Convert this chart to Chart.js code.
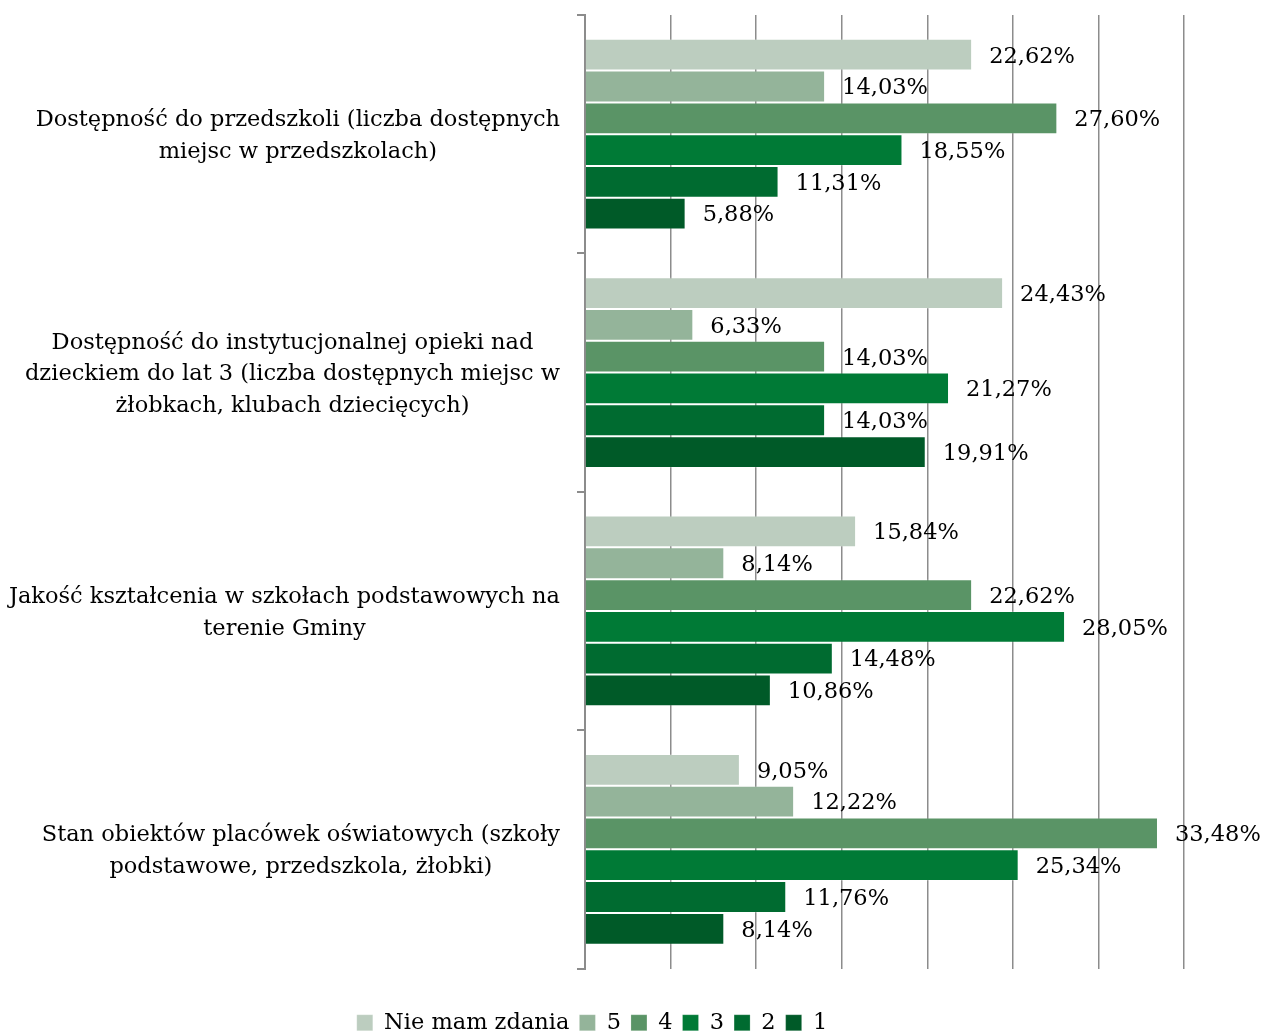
<!DOCTYPE html>
<html>
<head>
<meta charset="utf-8">
<script src="https://cdn.jsdelivr.net/npm/chart.js@4/dist/chart.umd.min.js"></script>
<style>
  html, body { margin: 0; padding: 0; background: #fff; overflow: hidden; }
  #wrap { width: 1265px; height: 1044px; position: relative; }
</style>
</head>
<body>
<div id="wrap"><canvas id="chart"></canvas></div>
<script>
// Category labels, one array of lines per category
const categories = [
  ["Dostępność do przedszkoli (liczba dostępnych", "miejsc w przedszkolach)"],
  ["Dostępność do instytucjonalnej opieki nad", "dzieckiem do lat 3 (liczba dostępnych miejsc w", "żłobkach, klubach dziecięcych)"],
  ["Jakość kształcenia w szkołach podstawowych na", "terenie Gminy"],
  ["Stan obiektów placówek oświatowych (szkoły", "podstawowe, przedszkola, żłobki)"],
];

const seriesNames = ["Nie mam zdania", "5", "4", "3", "2", "1"];
const seriesColors = ["#bccdbf", "#94b49a", "#5a9466", "#007a36", "#006b30", "#005a28"];

const valNieMam = [22.62, 24.43, 15.84, 9.05];
const val5 = [14.03, 6.33, 8.14, 12.22];
const val4 = [27.60, 14.03, 22.62, 33.48];
const val3 = [18.55, 21.27, 28.05, 25.34];
const val2 = [11.31, 14.03, 14.48, 11.76];
const val1 = [5.88, 19.91, 10.86, 8.14];
const seriesValues = [valNieMam, val5, val4, val3, val2, val1];

const FONT = '"DejaVu Serif", "Liberation Serif", serif';
const fmt = v => v.toFixed(2).replace(".", ",") + "%";

// value labels to the right of each bar
const barValues = {
  id: "barValues",
  afterDatasetsDraw(chart) {
    const ctx = chart.ctx;
    ctx.save();
    ctx.font = "22.5px " + FONT;
    ctx.fillStyle = "#000";
    ctx.textAlign = "left";
    ctx.textBaseline = "middle";
    chart.data.datasets.forEach((ds, i) => {
      chart.getDatasetMeta(i).data.forEach((bar, j) => {
        ctx.fillText(fmt(ds.data[j]), bar.x + 17, bar.y + 2);
      });
    });
    ctx.restore();
  }
};

// category labels: block right-aligned to the axis, lines centred inside it
const catLabels = {
  id: "catLabels",
  afterDraw(chart) {
    const ctx = chart.ctx;
    const y = chart.scales.y;
    const right = y.right - 25;
    const lh = 31.5;
    ctx.save();
    ctx.font = "22.5px " + FONT;
    ctx.fillStyle = "#000";
    ctx.textAlign = "center";
    ctx.textBaseline = "middle";
    chart.data.labels.forEach((lines, i) => {
      const w = Math.max(...lines.map(l => ctx.measureText(l).width));
      const cx = right - w / 2;
      const cy = y.getPixelForValue(i) + 2;
      lines.forEach((l, k) => {
        ctx.fillText(l, cx, cy + (k - (lines.length - 1) / 2) * lh);
      });
    });
    ctx.restore();
  }
};

new Chart(document.getElementById("chart"), {
  type: "bar",
  data: {
    labels: categories,
    datasets: seriesNames.map((name, i) => ({
      label: name,
      data: seriesValues[i],
      backgroundColor: seriesColors[i],
      borderColor: "rgba(255,255,255,0.2)",
      borderWidth: 1,
      categoryPercentage: 0.8,
      barPercentage: 1.0,
    })),
  },
  options: {
    indexAxis: "y",
    responsive: true,
    maintainAspectRatio: false,
    animation: false,
    layout: { padding: { top: 15, right: 81, left: 0, bottom: 0 } },
    scales: {
      x: {
        min: 0,
        max: 35,
        ticks: { display: false, stepSize: 5 },
        grid: { color: "#8c8c8c", lineWidth: 1.5, drawTicks: false },
        border: { display: false },
        afterFit(scale) { scale.height = 33; },
      },
      y: {
        ticks: { display: false },
        grid: { drawOnChartArea: false, drawTicks: true, tickLength: 8, color: "#8c8c8c", lineWidth: 2 },
        border: { display: true, color: "#8c8c8c", width: 2 },
        afterFit(scale) { scale.width = 585; },
      },
    },
    plugins: {
      legend: {
        position: "bottom",
        labels: {
          boxWidth: 16,
          boxHeight: 16,
          padding: 10,
          color: "#000",
          font: { family: FONT, size: 22.5 },
        },
      },
      tooltip: { enabled: false },
    },
  },
  plugins: [barValues, catLabels],
});
</script>
</body>
</html>
